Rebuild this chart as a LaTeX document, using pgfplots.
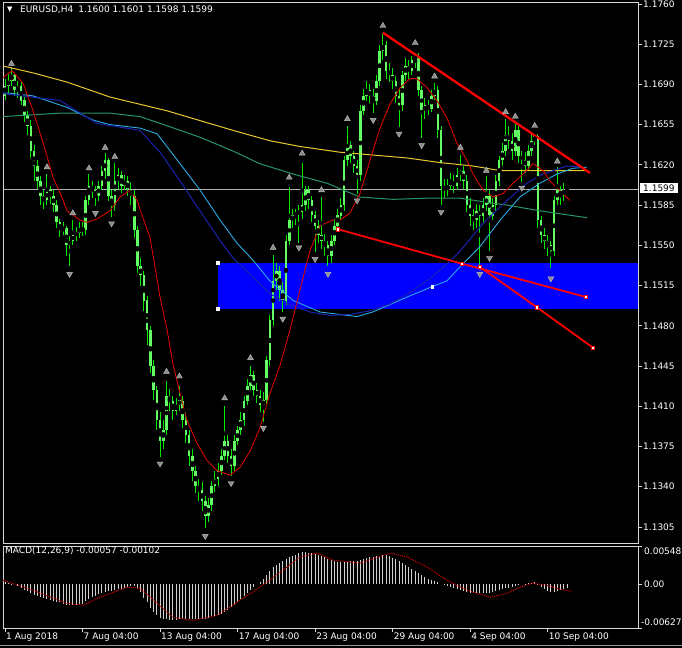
\documentclass[border=0pt]{standalone}
\usepackage{pgfplots}
\usepackage{pgfplotstable}
\pgfplotsset{compat=1.18}
\usepackage{fontspec}
\setmainfont{DejaVu Sans}
\newcommand{\lbl}{\fontsize{9bp}{10.8bp}\selectfont}
\definecolor{wickg}{RGB}{0,235,0}
\definecolor{bodyg}{RGB}{100,255,100}
\definecolor{maRed}{RGB}{215,0,0}
\definecolor{maYel}{RGB}{230,200,50}
\definecolor{maGrn}{RGB}{40,150,100}
\definecolor{maCyan}{RGB}{40,170,230}
\definecolor{maBlue}{RGB}{25,35,175}
\definecolor{rectBlue}{RGB}{0,0,255}
\definecolor{tlRed}{RGB}{255,0,0}
\definecolor{frame}{RGB}{215,215,215}
\definecolor{fract}{RGB}{140,140,140}
\begin{document}
\pgfplotstableread{
i o h l c
0 1.1680 1.1695 1.1676 1.1689
1 1.1689 1.1700 1.1683 1.1693
2 1.1693 1.1704 1.1689 1.1698
3 1.1698 1.1700 1.1680 1.1685
4 1.1685 1.1693 1.1678 1.1689
5 1.1689 1.1692 1.1672 1.1676
6 1.1676 1.1679 1.1657 1.1663
7 1.1663 1.1667 1.1646 1.1654
8 1.1654 1.1659 1.1626 1.1632
9 1.1632 1.1637 1.1606 1.1619
10 1.1619 1.1624 1.1599 1.1606
11 1.1606 1.1610 1.1585 1.1593
12 1.1593 1.1598 1.1582 1.1589
13 1.1589 1.1612 1.1585 1.1598
14 1.1598 1.1602 1.1586 1.1593
15 1.1593 1.1598 1.1579 1.1585
16 1.1585 1.1589 1.1565 1.1570
17 1.1570 1.1573 1.1557 1.1563
18 1.1563 1.1570 1.1559 1.1565
19 1.1565 1.1567 1.1541 1.1550
20 1.1550 1.1558 1.1532 1.1554
21 1.1554 1.1572 1.1550 1.1559
22 1.1559 1.1566 1.1554 1.1561
23 1.1561 1.1570 1.1556 1.1565
24 1.1565 1.1570 1.1558 1.1563
25 1.1563 1.1593 1.1559 1.1589
26 1.1589 1.1612 1.1585 1.1602
27 1.1602 1.1606 1.1591 1.1598
28 1.1598 1.1602 1.1584 1.1593
29 1.1593 1.1606 1.1589 1.1602
30 1.1602 1.1619 1.1598 1.1615
31 1.1615 1.1630 1.1608 1.1624
32 1.1624 1.1626 1.1589 1.1593
33 1.1593 1.1598 1.1575 1.1585
34 1.1585 1.1622 1.1580 1.1606
35 1.1606 1.1617 1.1599 1.1611
36 1.1611 1.1615 1.1596 1.1602
37 1.1602 1.1611 1.1598 1.1606
38 1.1606 1.1610 1.1593 1.1599
39 1.1599 1.1605 1.1585 1.1593
40 1.1593 1.1598 1.1556 1.1563
41 1.1563 1.1567 1.1526 1.1532
42 1.1532 1.1539 1.1515 1.1524
43 1.1524 1.1528 1.1493 1.1502
44 1.1502 1.1506 1.1463 1.1476
45 1.1476 1.1480 1.1439 1.1445
46 1.1445 1.1450 1.1415 1.1424
47 1.1424 1.1428 1.1389 1.1398
48 1.1398 1.1405 1.1366 1.1380
49 1.1380 1.1398 1.1373 1.1389
50 1.1389 1.1432 1.1385 1.1419
51 1.1419 1.1425 1.1406 1.1415
52 1.1415 1.1419 1.1398 1.1406
53 1.1406 1.1417 1.1402 1.1411
54 1.1411 1.1428 1.1406 1.1415
55 1.1415 1.1419 1.1391 1.1398
56 1.1398 1.1405 1.1378 1.1385
57 1.1385 1.1389 1.1358 1.1367
58 1.1367 1.1373 1.1345 1.1354
59 1.1354 1.1358 1.1335 1.1341
60 1.1341 1.1347 1.1328 1.1337
61 1.1337 1.1344 1.1319 1.1328
62 1.1328 1.1332 1.1304 1.1315
63 1.1315 1.1330 1.1309 1.1324
64 1.1324 1.1345 1.1319 1.1341
65 1.1341 1.1354 1.1335 1.1347
66 1.1347 1.1361 1.1341 1.1354
67 1.1354 1.1373 1.1350 1.1367
68 1.1367 1.1410 1.1363 1.1380
69 1.1380 1.1385 1.1361 1.1367
70 1.1367 1.1373 1.1349 1.1358
71 1.1358 1.1385 1.1354 1.1380
72 1.1380 1.1393 1.1376 1.1389
73 1.1389 1.1405 1.1385 1.1398
74 1.1398 1.1419 1.1393 1.1415
75 1.1415 1.1434 1.1411 1.1428
76 1.1428 1.1445 1.1424 1.1437
77 1.1437 1.1441 1.1419 1.1424
78 1.1424 1.1430 1.1413 1.1419
79 1.1419 1.1424 1.1405 1.1411
80 1.1411 1.1422 1.1396 1.1415
81 1.1415 1.1454 1.1411 1.1450
82 1.1450 1.1489 1.1445 1.1485
83 1.1485 1.1542 1.1480 1.1519
84 1.1519 1.1535 1.1511 1.1528
85 1.1528 1.1532 1.1502 1.1511
86 1.1511 1.1518 1.1492 1.1502
87 1.1502 1.1559 1.1498 1.1554
88 1.1554 1.1601 1.1550 1.1572
89 1.1572 1.1582 1.1565 1.1576
90 1.1576 1.1582 1.1568 1.1578
91 1.1578 1.1585 1.1552 1.1579
92 1.1579 1.1622 1.1573 1.1585
93 1.1585 1.1602 1.1580 1.1598
94 1.1598 1.1602 1.1582 1.1589
95 1.1589 1.1593 1.1570 1.1576
96 1.1576 1.1580 1.1544 1.1567
97 1.1567 1.1572 1.1552 1.1559
98 1.1559 1.1592 1.1547 1.1554
99 1.1554 1.1560 1.1541 1.1550
100 1.1550 1.1554 1.1532 1.1541
101 1.1541 1.1559 1.1535 1.1554
102 1.1554 1.1573 1.1550 1.1567
103 1.1567 1.1582 1.1563 1.1576
104 1.1576 1.1591 1.1572 1.1585
105 1.1585 1.1628 1.1580 1.1624
106 1.1624 1.1654 1.1619 1.1637
107 1.1637 1.1641 1.1622 1.1628
108 1.1628 1.1632 1.1613 1.1619
109 1.1619 1.1624 1.1595 1.1611
110 1.1611 1.1672 1.1606 1.1667
111 1.1667 1.1686 1.1663 1.1680
112 1.1680 1.1693 1.1676 1.1685
113 1.1685 1.1690 1.1674 1.1680
114 1.1680 1.1686 1.1665 1.1676
115 1.1676 1.1698 1.1672 1.1693
116 1.1693 1.1724 1.1689 1.1719
117 1.1719 1.1734 1.1711 1.1724
118 1.1724 1.1728 1.1695 1.1702
119 1.1702 1.1709 1.1692 1.1698
120 1.1698 1.1704 1.1686 1.1693
121 1.1693 1.1697 1.1674 1.1680
122 1.1680 1.1686 1.1653 1.1672
123 1.1672 1.1702 1.1667 1.1698
124 1.1698 1.1713 1.1693 1.1706
125 1.1706 1.1711 1.1695 1.1702
126 1.1702 1.1715 1.1698 1.1711
127 1.1711 1.1717 1.1704 1.1715
128 1.1715 1.1717 1.1680 1.1685
129 1.1685 1.1689 1.1643 1.1667
130 1.1667 1.1678 1.1660 1.1672
131 1.1672 1.1676 1.1663 1.1669
132 1.1669 1.1685 1.1666 1.1680
133 1.1680 1.1691 1.1676 1.1685
134 1.1685 1.1689 1.1643 1.1650
135 1.1650 1.1654 1.1585 1.1602
136 1.1602 1.1608 1.1591 1.1598
137 1.1598 1.1608 1.1593 1.1602
138 1.1602 1.1613 1.1598 1.1606
139 1.1606 1.1611 1.1596 1.1602
140 1.1602 1.1617 1.1598 1.1611
141 1.1611 1.1629 1.1606 1.1615
142 1.1615 1.1619 1.1599 1.1606
143 1.1606 1.1611 1.1579 1.1585
144 1.1585 1.1591 1.1567 1.1576
145 1.1576 1.1582 1.1563 1.1572
146 1.1572 1.1586 1.1565 1.1580
147 1.1580 1.1585 1.1533 1.1576
148 1.1576 1.1591 1.1570 1.1585
149 1.1585 1.1610 1.1580 1.1593
150 1.1593 1.1598 1.1545 1.1576
151 1.1576 1.1591 1.1572 1.1585
152 1.1585 1.1611 1.1580 1.1606
153 1.1606 1.1628 1.1602 1.1624
154 1.1624 1.1639 1.1619 1.1632
155 1.1632 1.1660 1.1628 1.1646
156 1.1646 1.1654 1.1634 1.1641
157 1.1641 1.1648 1.1624 1.1632
158 1.1632 1.1657 1.1628 1.1650
159 1.1650 1.1654 1.1622 1.1628
160 1.1628 1.1632 1.1605 1.1624
161 1.1624 1.1631 1.1613 1.1619
162 1.1619 1.1637 1.1615 1.1632
163 1.1632 1.1648 1.1628 1.1641
164 1.1641 1.1647 1.1637 1.1645
165 1.1645 1.1647 1.1565 1.1572
166 1.1572 1.1576 1.1552 1.1559
167 1.1559 1.1565 1.1547 1.1554
168 1.1554 1.1559 1.1541 1.1550
169 1.1550 1.1554 1.1530 1.1545
170 1.1545 1.1593 1.1541 1.1589
171 1.1589 1.1618 1.1585 1.1598
172 1.1598 1.1602 1.1585 1.1593
173 1.1593 1.1604 1.1589 1.1598
174 1.1600 1.1601 1.1598 1.1599
}\bars
\pgfplotstableread{
i m
0 0.00029
1 0.00014
2 0.00007
3 0
4 -0.00029
5 -0.00058
6 -0.00079
7 -0.00101
8 -0.00130
9 -0.00151
10 -0.00173
11 -0.00180
12 -0.00202
13 -0.00216
14 -0.00230
15 -0.00245
16 -0.00259
17 -0.00259
18 -0.00281
19 -0.00295
20 -0.00302
21 -0.00302
22 -0.00295
23 -0.00288
24 -0.00281
25 -0.00245
26 -0.00216
27 -0.00187
28 -0.00173
29 -0.00144
30 -0.00130
31 -0.00115
32 -0.00101
33 -0.00094
34 -0.00086
35 -0.00072
36 -0.00065
37 -0.00058
38 -0.00043
39 -0.00022
40 -0.00029
41 -0.00072
42 -0.00115
43 -0.00202
44 -0.00259
45 -0.00346
46 -0.00403
47 -0.00446
48 -0.00490
49 -0.00504
50 -0.00504
51 -0.00518
52 -0.00518
53 -0.00511
54 -0.00504
55 -0.00504
56 -0.00504
57 -0.00504
58 -0.00504
59 -0.00504
60 -0.00497
61 -0.00497
62 -0.00497
63 -0.00490
64 -0.00475
65 -0.00461
66 -0.00446
67 -0.00425
68 -0.00403
69 -0.00374
70 -0.00331
71 -0.00302
72 -0.00259
73 -0.00216
74 -0.00173
75 -0.00130
76 -0.00086
77 -0.00043
78 0
79 0.00029
80 0.00072
81 0.00130
82 0.00187
83 0.00245
84 0.00274
85 0.00302
86 0.00331
87 0.00360
88 0.00389
89 0.00403
90 0.00418
91 0.00446
92 0.00461
93 0.00461
94 0.00454
95 0.00446
96 0.00432
97 0.00418
98 0.00403
99 0.00389
100 0.00367
101 0.00353
102 0.00338
103 0.00324
104 0.00317
105 0.00317
106 0.00324
107 0.00331
108 0.00338
109 0.00338
110 0.00346
111 0.00360
112 0.00374
113 0.00389
114 0.00396
115 0.00403
116 0.00410
117 0.00418
118 0.00418
119 0.00403
120 0.00382
121 0.00360
122 0.00331
123 0.00310
124 0.00281
125 0.00245
126 0.00216
127 0.00187
128 0.00158
129 0.00130
130 0.00101
131 0.00079
132 0.00058
133 0.00043
134 0.00029
135 0
136 -0.00014
137 -0.00029
138 -0.00043
139 -0.00058
140 -0.00072
141 -0.00086
142 -0.00101
143 -0.00115
144 -0.00122
145 -0.00130
146 -0.00130
147 -0.00130
148 -0.00130
149 -0.00122
150 -0.00122
151 -0.00115
152 -0.00101
153 -0.00086
154 -0.00072
155 -0.00058
156 -0.00050
157 -0.00043
158 -0.00029
159 -0.00014
160 0
161 0.00007
162 0.00014
163 0.00022
164 0.00029
165 -0.00014
166 -0.00043
167 -0.00072
168 -0.00094
169 -0.00108
170 -0.00108
171 -0.00101
172 -0.00086
173 -0.00072
174 -0.00057
}\macd
\begin{tikzpicture}
\fill[black] (0,0) rectangle (682bp,648bp);
\begin{axis}[name=main, at={(3bp,105bp)}, anchor=south west,
  scale only axis, width=635bp, height=541bp,
  xmin=-0.62, xmax=195.98, ymin=1.12910, ymax=1.17617,
  axis line style={frame, line width=0.8bp},
  tick style={frame, line width=0.8bp},
  major tick length=4bp, tick align=outside,
  xtick=\empty,
  ytick={1.1305,1.1340,1.1375,1.1410,1.1445,1.1480,1.1515,1.1550,1.1585,1.1620,1.1655,1.1690,1.1725,1.1760},
  ytick pos=right, yticklabel pos=right,
  scaled y ticks=false,
  /pgf/number format/assume math mode=true,
  y tick label style={/pgf/number format/.cd, fixed, fixed zerofill, precision=4, /tikz/.cd, font=\lbl, text=white, anchor=west, inner sep=1bp},
  clip=true]
% blue zone
\addplot[fill=rectBlue, draw=none] coordinates {(65.9,1.1495) (65.9,1.1535) (196,1.1535) (196,1.1495)} -- cycle;
% current price line
\addplot[color=white!70!black, line width=0.7bp] coordinates {(-0.62,1.1599) (195.98,1.1599)};
% wicks
\addplot[only marks, mark=none, error bars/.cd, y dir=both, y explicit, error mark=none,
  error bar style={draw=wickg, line width=1bp}]
  table[x=i, y expr={(\thisrow{h}+\thisrow{l})/2}, y error expr={(\thisrow{h}-\thisrow{l})/2}] {\bars};
% bodies
\addplot[only marks, mark=none, error bars/.cd, y dir=both, y explicit, error mark=none,
  error bar style={draw=bodyg, line width=2.6bp}]
  table[x=i, y expr={(\thisrow{o}+\thisrow{c})/2}, y error expr={abs(\thisrow{c}-\thisrow{o})/2}] {\bars};
% moving averages
\addplot[maYel, line width=1bp] coordinates {(-0.6,1.1706) (8.7,1.1700) (19.2,1.1692) (32.5,1.1679) (50.2,1.1667) (70.6,1.1650) (82.0,1.1641) (91.3,1.1636) (103.7,1.1631) (124.5,1.1626) (134.7,1.1622) (144.9,1.1619) (153.3,1.1615) (165.6,1.1615) (180.2,1.1615)};
\addplot[maGrn, line width=1bp] coordinates {(-0.6,1.1662) (17.0,1.1665) (32.5,1.1665) (41.8,1.1662) (50.2,1.1654) (60.4,1.1644) (70.6,1.1632) (78.9,1.1621) (89.2,1.1612) (99.7,1.1604) (109.9,1.1592) (120.1,1.1590) (130.7,1.1591) (140.9,1.1591) (150.2,1.1587) (155.4,1.1585) (165.6,1.1580) (180.2,1.1574)};
\addplot[maCyan, line width=0.9bp] coordinates {(-0.6,1.1683) (8.7,1.1680) (19.2,1.1670) (27.2,1.1659) (32.5,1.1655) (41.8,1.1652) (47.1,1.1647) (54.2,1.1621) (60.4,1.1598) (66.6,1.1572) (71.8,1.1552) (76.8,1.1537) (82.0,1.1519) (89.2,1.1502) (97.5,1.1492) (109.0,1.1488) (113.9,1.1492) (124.5,1.1505) (132.2,1.1514) (136.8,1.1519) (141.8,1.1534) (147.1,1.1549) (153.3,1.1572) (159.4,1.1592) (165.6,1.1604) (170.9,1.1612) (175.8,1.1617) (180.2,1.1618)};
\addplot[maBlue, line width=1bp] coordinates {(-0.6,1.1682) (17.0,1.1676) (28.5,1.1656) (41.8,1.1650) (48.0,1.1631) (54.2,1.1606) (58.2,1.1589) (66.6,1.1554) (70.6,1.1539) (76.8,1.1522) (82.0,1.1508) (88.2,1.1498) (94.4,1.1492) (100.6,1.1489) (106.8,1.1490) (113.0,1.1493) (119.2,1.1499) (125.4,1.1509) (131.6,1.1521) (136.2,1.1532) (140.9,1.1545) (148.0,1.1569) (155.4,1.1589) (161.6,1.1604) (166.6,1.1612) (174.0,1.1619) (178.9,1.1618)};
\addplot[maRed, line width=0.9bp] coordinates {(-0.6,1.1696) (2.2,1.1702) (5.6,1.1691) (8.7,1.1667) (11.8,1.1639) (14.9,1.1609) (17.6,1.1592) (19.2,1.1580) (23.2,1.1572) (25.4,1.1570) (28.5,1.1573) (32.5,1.1580) (35.6,1.1592) (38.7,1.1598) (40.9,1.1589) (42.7,1.1574) (44.9,1.1557) (48.0,1.1505) (50.2,1.1476) (52.0,1.1447) (54.2,1.1421) (56.3,1.1398) (59.4,1.1378) (62.5,1.1363) (65.6,1.1354) (69.7,1.1350) (72.8,1.1357) (75.9,1.1371) (78.9,1.1391) (82.0,1.1421) (85.1,1.1445) (88.2,1.1476) (91.3,1.1511) (94.4,1.1545) (97.5,1.1567) (101.5,1.1572) (103.7,1.1572) (106.8,1.1578) (109.9,1.1595) (113.0,1.1624) (116.1,1.1652) (119.2,1.1673) (122.3,1.1687) (125.4,1.1695) (127.6,1.1695) (130.7,1.1687) (133.7,1.1676) (136.8,1.1661) (139.9,1.1639) (143.0,1.1624) (144.9,1.1612) (148.0,1.1598) (151.1,1.1592) (154.2,1.1595) (157.3,1.1604) (160.4,1.1612) (163.5,1.1621) (166.6,1.1615) (168.7,1.1606) (170.9,1.1600) (174.9,1.1589)};
% fractals
\addplot[only marks, mark=triangle*, mark size=3.4bp, mark options={fill=fract, draw=white!75!black, line width=0.4bp}] coordinates {(2,1.1708) (13,1.1618) (21,1.1578) (26,1.1617) (31,1.1635) (34,1.1627) (50,1.1440) (54,1.1436) (68,1.1417) (76,1.1452) (83,1.1548) (88,1.1609) (92,1.1630) (98,1.1598) (106,1.1660) (117,1.1741) (127,1.1726) (133,1.1697) (141,1.1635) (149,1.1615) (155,1.1666) (158,1.1662) (164,1.1654) (171,1.1623)};
\addplot[only marks, mark=triangle*, mark size=3.4bp, mark options={rotate=180, fill=fract, draw=white!75!black, line width=0.4bp}] coordinates {(20,1.1525) (28,1.1578) (33,1.1569) (48,1.1360) (62,1.1297) (70,1.1343) (80,1.1391) (86,1.1486) (91,1.1548) (96,1.1538) (100,1.1525) (109,1.1589) (114,1.1659) (122,1.1647) (129,1.1637) (135,1.1579) (147,1.1525) (150,1.1539) (160,1.1600) (169,1.1521)};
% trend lines
\addplot[tlRed, line width=2.3bp] coordinates {(117.0,1.1735) (181.1,1.1613)};
\addplot[tlRed, line width=1.8bp, mark=square*, mark size=1.7bp, mark options={draw=tlRed, fill=white, line width=0.8bp}] coordinates {(103.1,1.1564) (141.5,1.1534) (179.9,1.1505)};
\addplot[tlRed, line width=1.8bp, mark=square*, mark size=1.7bp, mark options={draw=tlRed, fill=white, line width=0.8bp}] coordinates {(147.1,1.1531) (164.7,1.1496) (182.0,1.1461)};
% white anchor dots
\addplot[only marks, mark=square*, mark size=1.2bp, mark options={fill=white, draw=white}] coordinates {(65.9,1.1535) (65.9,1.1495) (132.2,1.1514)};
\end{axis}
\begin{axis}[name=macd, at={(3bp,20bp)}, anchor=south west,
  scale only axis, width=635bp, height=82bp,
  xmin=-0.62, xmax=195.98, ymin=-0.00627, ymax=0.00548,
  axis line style={frame, line width=0.8bp},
  tick style={frame, line width=0.8bp},
  major tick length=4bp, tick align=outside,
  xtick={0,24,48,72,96,120,144,168},
  xticklabels={1 Aug 2018,7 Aug 04:00,13 Aug 04:00,17 Aug 04:00,23 Aug 04:00,29 Aug 04:00,4 Sep 04:00,10 Sep 04:00},
  xtick pos=bottom,
  x tick label style={font=\lbl, text=white, anchor=north west, inner sep=1bp},
  ytick={-0.00627,0,0.00548}, yticklabels={,,},
  ytick pos=right,
  scaled y ticks=false, scaled x ticks=false,
  clip=true]
\addplot[ycomb, draw=white!82!black, line width=1bp] table[x=i, y=m] {\macd};
\addplot[maRed, densely dotted, line width=1bp] coordinates {(-0.6,0.00058) (8.7,-0.00086) (19.2,-0.00274) (24.1,-0.00302) (29.4,-0.00187) (37.8,-0.00043) (41.8,-0.00058) (47.1,-0.00274) (52.0,-0.00475) (58.2,-0.00518) (65.6,-0.00446) (72.8,-0.00230) (78.9,-0.00043) (86.1,0.00202) (91.3,0.00389) (96.6,0.00446) (101.5,0.00346) (109.9,0.00302) (119.2,0.00446) (124.5,0.00389) (130.7,0.00245) (136.8,0.00058) (143.0,-0.00086) (150.2,-0.00187) (155.4,-0.00130) (159.4,-0.00043) (163.1,0.00014) (167.8,-0.00014) (171.8,-0.00072) (175.5,-0.00102)};
\end{axis}
% texts
\node[anchor=west, text=white, font=\fontsize{7bp}{8bp}\selectfont, inner sep=0] at (7bp,638bp) {▼};
\node[anchor=west, text=white, font=\lbl, inner sep=0] at (20bp,638bp) {EURUSD,H4\hspace{5bp}1.1600 1.1601 1.1598 1.1599};
\node[anchor=west, text=white, font=\lbl, inner sep=0] at (5bp,97bp) {MACD(12,26,9) -0.00057 -0.00102};
\node[anchor=west, fill=white, text=black, font=\lbl, inner xsep=3bp, inner ysep=2bp] at (640bp,460bp) {1.1599};
\node[anchor=west, text=white, font=\lbl, inner sep=0] at (644bp,97bp) {0.00548};
\node[anchor=west, text=white, font=\lbl, inner sep=0] at (644bp,64bp) {0.00};
\node[anchor=west, text=white, font=\lbl, inner sep=0] at (641bp,26bp) {-0.00627};
\draw[white!60!black, line width=0.8bp] (0,3bp) -- (682bp,3bp);
\pgfresetboundingbox
\useasboundingbox (0,0) rectangle (682bp,648bp);
\end{tikzpicture}
\end{document}
